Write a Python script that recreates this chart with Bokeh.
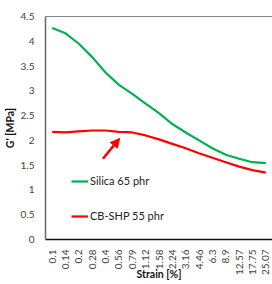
from bokeh.plotting import figure
from bokeh.models import (FactorRange, Range1d, FixedTicker, NumeralTickFormatter,
                          Span, Arrow, NormalHead, Legend, LegendItem)
from bokeh.embed import file_html
from bokeh.resources import INLINE
import math

strain = ["0.1", "0.14", "0.2", "0.28", "0.4", "0.56", "0.79", "1.12", "1.58",
          "2.24", "3.16", "4.46", "6.3", "8.9", "12.57", "17.75", "25.07"]
silica = [4.27, 4.16, 3.95, 3.68, 3.37, 3.12, 2.94, 2.74, 2.55,
          2.33, 2.16, 2.00, 1.84, 1.71, 1.63, 1.56, 1.54]
cbshp = [2.17, 2.16, 2.18, 2.20, 2.20, 2.17, 2.16, 2.10, 2.02,
         1.93, 1.84, 1.74, 1.65, 1.56, 1.47, 1.40, 1.35]
y_ticks = [0, 0.5, 1, 1.5, 2, 2.5, 3, 3.5, 4, 4.5]
series_names = ["Silica 65 phr", "CB-SHP 55 phr"]
x_title = "Strain [%]"
y_title = "G' [MPa]"
# arrow (tail -> head) in data coordinates (synthetic x)
arrow_x = [4.3, 5.55]
arrow_y = [1.63, 2.04]

FONT = "Lato"
TXT = "#404040"

p = figure(width=272, height=284, x_range=FactorRange(*strain),
           y_range=Range1d(0, 4.5), output_backend="svg", toolbar_location=None,
           min_border_left=43, min_border_right=0, min_border_top=16,
           min_border_bottom=45)
p.outline_line_color = None
p.xgrid.grid_line_color = None
p.ygrid.grid_line_color = None
p.background_fill_color = "white"
p.border_fill_color = "white"

r1 = p.line(strain, silica, line_color="#00B050", line_width=2.2)
r2 = p.line(strain, cbshp, line_color="#FF0000", line_width=2.2)

p.add_layout(Span(location=4.5, dimension="width", line_color="#111111", line_width=1.2))

p.add_layout(Arrow(end=NormalHead(size=9, fill_color="#FF0000", line_color="#FF0000"),
                   x_start=arrow_x[0], y_start=arrow_y[0], x_end=arrow_x[1], y_end=arrow_y[1],
                   line_color="#FF0000", line_width=2.5))

yax = p.yaxis[0]
yax.ticker = FixedTicker(ticks=y_ticks)
yax.formatter = NumeralTickFormatter(format="0.[0]")
yax.major_tick_line_color = None
yax.minor_tick_line_color = None
yax.axis_line_color = "#666666"
yax.axis_line_width = 1.5
yax.major_label_text_font = FONT
yax.major_label_text_font_size = "10px"
yax.major_label_text_color = TXT
yax.major_label_standoff = 5
yax.axis_label = y_title
yax.axis_label_text_font = FONT
yax.axis_label_text_font_size = "10.5px"
yax.axis_label_text_font_style = "bold"
yax.axis_label_text_color = "#111111"
yax.axis_label_standoff = 2

xax = p.xaxis[0]
xax.major_tick_line_color = None
xax.minor_tick_line_color = None
xax.axis_line_color = "#111111"
xax.axis_line_width = 1.5
xax.major_label_orientation = math.pi / 2
xax.major_label_text_font = FONT
xax.major_label_text_font_size = "10px"
xax.major_label_text_color = TXT
xax.major_label_standoff = 4
xax.axis_label = x_title
xax.axis_label_text_font = FONT
xax.axis_label_text_font_size = "10.5px"
xax.axis_label_text_font_style = "bold"
xax.axis_label_text_color = "#111111"
xax.axis_label_standoff = -10

legend = Legend(items=[LegendItem(label=series_names[0], renderers=[r1]),
                       LegendItem(label=series_names[1], renderers=[r2])],
                location=(26, 17), background_fill_alpha=0, border_line_color=None,
                padding=0, margin=0, spacing=22, glyph_width=17, glyph_height=12,
                label_height=12, label_standoff=2, label_text_font=FONT,
                label_text_font_size="11px", label_text_color="#222222")
p.add_layout(legend)

open("out.html", "w").write(file_html(p, INLINE))
